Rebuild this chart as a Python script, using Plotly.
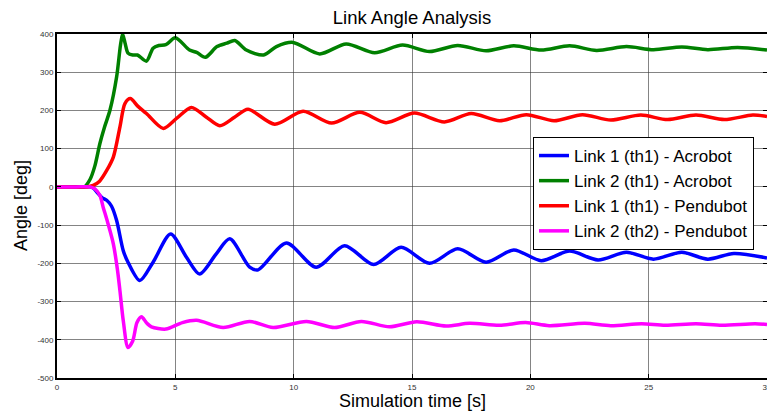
import plotly.graph_objects as go

# ---- data ----
t_acro1 = [0, 0.8, 1.4, 1.55, 1.7, 1.9, 2.1, 2.3, 2.52, 2.8, 3.0, 3.5, 4.06, 4.8, 5.47, 6.03, 6.73, 7.3, 8.14, 8.5,
           9.69, 10.95, 12.15, 13.38, 14.54, 15.74, 16.93, 18.13, 19.3, 20.46, 21.66, 22.86, 24.06, 25.2, 26.4,
           27.5, 28.6, 30]
v_acro1 = [0, 0, 0, -4, -15, -28, -35, -50, -88, -167, -197, -245, -197, -123, -184, -228, -175, -136, -210, -217,
           -147, -210, -154, -203, -158, -200, -162, -197, -165, -193, -168, -191, -171, -189, -171,
           -189, -174, -186]

t_acro2 = [0, 0.8, 1.15, 1.4, 1.6, 1.81, 2.0, 2.24, 2.52, 2.68, 2.77, 2.88, 3.0, 3.2, 3.4, 3.78, 4.06, 4.3, 4.6, 5.0,
           5.6, 5.9, 6.27, 6.76, 7.18, 7.51, 8.0, 8.73, 9.27, 9.97, 11.1, 12.22, 13.42, 14.6, 15.74, 16.93,
           18.13, 19.3, 20.46, 21.66, 22.8, 24.06, 25.2, 26.4, 27.5, 28.76, 30]
v_acro2 = [0, 0, 0, 20, 55, 113, 155, 201, 288, 370, 400, 375, 350, 345, 345, 329, 363, 370, 372, 390,
           358, 352, 339, 367, 376, 383, 358, 345, 367, 378, 348, 374, 351, 371, 354, 370,
           356, 369, 358, 369, 357, 367, 359, 366, 359, 365, 358]

t_pend1 = [0, 0.8, 1.25, 1.53, 1.8, 2.1, 2.38, 2.66, 2.87, 3.1, 3.4, 3.78, 4.49, 5.05, 5.68, 6.3, 6.88, 7.5, 8.07,
           9.2, 10.4, 11.6, 12.8, 13.9, 15.1, 16.37, 17.5, 18.7, 19.83, 21.0, 22.2, 23.4, 24.67, 25.8, 27.0,
           28.2, 29.4, 30]
v_pend1 = [0, 0, 0, 4, 15, 43, 78, 157, 218, 231, 212, 192, 153, 179, 208, 183, 160, 182, 203,
           164, 198, 167, 195, 168, 193, 170, 192, 173, 189, 173, 189, 175, 188, 176, 188,
           176, 188, 184]

t_pend2 = [0, 0.8, 1.4, 1.6, 1.81, 1.95, 2.15, 2.38, 2.55, 2.66, 2.8, 3.0, 3.2, 3.38, 3.57, 3.8, 3.99, 4.6, 5.3,
           5.9, 7.02, 8.14, 9.13, 10.54, 11.73, 12.86, 14.05, 15.2, 16.44, 17.43, 18.7, 19.8, 20.8, 22.3,
           23.4, 24.7, 25.7, 27.0, 28.1, 29.5, 30]
v_pend2 = [0, 0, 0, -5, -22, -53, -95, -149, -215, -272, -350, -420, -403, -355, -340, -357, -366, -372, -355,
           -349, -368, -352, -368, -352, -368, -352, -366, -353, -364, -357, -362, -355, -363, -357,
           -363, -358, -362, -358, -362, -358, -360]

series_names = ["Link 1 (th1) - Acrobot", "Link 2 (th1) - Acrobot",
                "Link 1 (th1) - Pendubot", "Link 2 (th2) - Pendubot"]
series_colors = ["#0000ff", "#008000", "#ff0000", "#ff00ff"]
x_ticks = [0, 5, 10, 15, 20, 25, 30]
y_ticks = [-500, -400, -300, -200, -100, 0, 100, 200, 300, 400]

FONT = "Liberation Sans, Arial, sans-serif"
W, H = 767, 415
ML, MR, MT, MB = 57, 0, 34, 37

fig = go.Figure()
for t, v, name, col in zip([t_acro1, t_acro2, t_pend1, t_pend2],
                           [v_acro1, v_acro2, v_pend1, v_pend2],
                           series_names, series_colors):
    fig.add_trace(go.Scatter(x=t, y=v, mode="lines", name=name,
                             line=dict(color=col, width=3.5, shape="spline", smoothing=0.8)))

axis_common = dict(showline=True, linecolor="black", linewidth=2, mirror="ticks",
                   ticks="inside", ticklen=4, tickcolor="black", tickwidth=1,
                   showgrid=True, gridcolor="rgba(50,50,50,0.6)", gridwidth=1,
                   zeroline=False, automargin=False, ticklabeloverflow="allow",
                   tickfont=dict(family=FONT, size=8, color="#333333"))

fig.update_layout(
    width=W, height=H,
    margin=dict(l=ML, r=MR, t=MT, b=MB),
    paper_bgcolor="white", plot_bgcolor="white",
    title=dict(text="Link Angle Analysis", x=(ML + W) / 2 / W, xanchor="center",
               y=1 - 18 / H, yanchor="middle", font=dict(family=FONT, size=18.5, color="black")),
    xaxis=dict(range=[0, 30], tickvals=x_ticks, ticktext=[str(v) for v in x_ticks], **axis_common),
    yaxis=dict(range=[-500, 400], tickvals=y_ticks, ticktext=[str(v) for v in y_ticks], **axis_common),
    legend=dict(x=(533 - ML) / (W - ML - MR), y=(H - MB - 137) / (H - MT - MB),
                xanchor="left", yanchor="top",
                bgcolor="white", bordercolor="black", borderwidth=1,
                font=dict(family=FONT, size=17, color="black"),
                itemwidth=30, tracegroupgap=0),
    showlegend=True,
    annotations=[
        dict(text="Simulation time [s]", xref="paper", yref="paper",
             x=(412 - ML) / (W - ML - MR), y=-(401 - (H - MB)) / (H - MT - MB),
             xanchor="center", yanchor="middle",
             showarrow=False, font=dict(family=FONT, size=18, color="black")),
        dict(text="Angle [deg]", xref="paper", yref="paper", textangle=-90,
             x=-(ML - 21) / (W - ML - MR), y=0.5, xanchor="center", yanchor="middle",
             showarrow=False, font=dict(family=FONT, size=18, color="black")),
    ],
)

fig.write_html("out.html", config={"displayModeBar": False},
               post_script="document.body.style.margin='0';document.body.style.padding='0';"
                           "document.documentElement.style.overflow='hidden';")
